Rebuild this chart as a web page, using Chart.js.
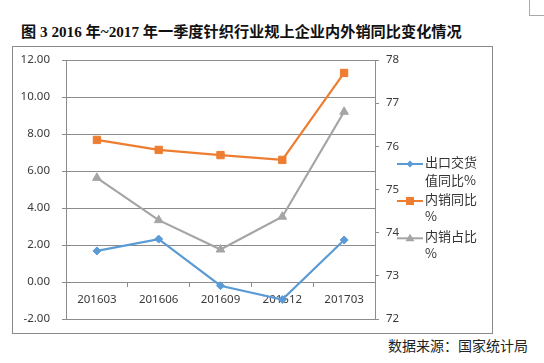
<!DOCTYPE html>
<html>
<head>
<meta charset="utf-8">
<script src="https://cdn.jsdelivr.net/npm/chart.js@4.4.1/dist/chart.umd.min.js"></script>
<style>
html,body{margin:0;padding:0;background:#fff;width:544px;height:363px;overflow:hidden;}
#title{position:absolute;left:21px;top:21px;line-height:21px;font-family:"Liberation Serif","Noto Sans CJK SC",serif;font-weight:bold;font-size:15.2px;color:#111;white-space:nowrap;}
#source{position:absolute;left:388px;top:335px;line-height:20px;font-family:"Noto Sans CJK SC",sans-serif;font-size:14px;color:#222;white-space:nowrap;}
#box{position:absolute;left:12px;top:46px;width:481px;height:288px;box-sizing:border-box;border:1px solid #8a8a8a;}
#corner{position:absolute;left:529px;top:-1px;width:20px;height:17px;box-sizing:border-box;border:1px solid #aaa;}
canvas{display:block;}
</style>
</head>
<body>
<div id="corner"></div>
<div id="title">图 3 2016 年~2017 年一季度针织行业规上企业内外销同比变化情况</div>
<div id="box"><canvas id="c" width="479" height="286"></canvas></div>
<div id="source">数据来源：国家统计局</div>
<script>
const categories = ['201603', '201606', '201609', '201612', '201703'];
const exportYoY = [1.68, 2.32, -0.20, -0.95, 2.27];
const domesticYoY = [7.68, 7.14, 6.86, 6.60, 11.30];
const domesticShare = [75.27, 74.29, 73.61, 74.37, 76.80];
const legendLines = [['出口交货', '值同比%'], ['内销同比', '%'], ['内销占比', '%']];

const gridColor = '#8c8c8c';
const tickColor = '#3a3a3a';
const tickFont = {family: '"Noto Sans", sans-serif', size: 11.5};

const legendPlugin = {
  id: 'sideLegend',
  afterDraw(chart) {
    const ctx = chart.ctx;
    const rows = [
      {line: 117, t1: 114.7, t2: 133},
      {line: 154, t1: 152.3, t2: 169.5},
      {line: 191.3, t1: 188.7, t2: 206}
    ];
    chart.data.datasets.forEach((ds, i) => {
      const r = rows[i];
      ctx.save();
      ctx.strokeStyle = ds.borderColor;
      ctx.lineWidth = 2;
      ctx.beginPath();
      ctx.moveTo(384, r.line);
      ctx.lineTo(410, r.line);
      ctx.stroke();
      ctx.fillStyle = ds.borderColor;
      const mx = 397, my = r.line;
      ctx.beginPath();
      if (ds.pointStyle === 'rectRot') {
        ctx.moveTo(mx, my - 3.5); ctx.lineTo(mx + 3.5, my); ctx.lineTo(mx, my + 3.5); ctx.lineTo(mx - 3.5, my);
      } else if (ds.pointStyle === 'rect') {
        ctx.rect(mx - 4, my - 4, 8, 8);
      } else {
        ctx.moveTo(mx, my - 4.5); ctx.lineTo(mx + 4.5, my + 3); ctx.lineTo(mx - 4.5, my + 3);
      }
      ctx.closePath();
      ctx.fill();
      ctx.fillStyle = '#333';
      ctx.font = '13px "Noto Sans CJK SC", sans-serif';
      ctx.textBaseline = 'middle';
      ctx.textAlign = 'left';
      ctx.fillText(legendLines[i][0], 412, r.t1);
      ctx.fillText(legendLines[i][1], 412, r.t2);
      ctx.restore();
    });
  }
};

function fixVertical(width) {
  return s => { s.width = width; s.paddingTop = 0; s.paddingBottom = 0; };
}

new Chart(document.getElementById('c'), {
  type: 'line',
  data: {
    labels: categories,
    datasets: [
      {label: '出口交货值同比%', data: exportYoY, yAxisID: 'y', borderColor: '#5B9BD5', backgroundColor: '#5B9BD5',
       pointStyle: 'rectRot', pointRadius: 4, pointBorderWidth: 1, borderWidth: 2.2, tension: 0},
      {label: '内销同比%', data: domesticYoY, yAxisID: 'y', borderColor: '#ED7D31', backgroundColor: '#ED7D31',
       pointStyle: 'rect', pointRadius: 5.2, pointBorderWidth: 1, borderWidth: 2.2, tension: 0},
      {label: '内销占比%', data: domesticShare, yAxisID: 'y1', borderColor: '#A5A5A5', backgroundColor: '#A5A5A5',
       pointStyle: 'triangle', pointRadius: 5, pointBorderWidth: 1, borderWidth: 2.2, tension: 0}
    ]
  },
  options: {
    animation: false,
    responsive: false,
    devicePixelRatio: 1,
    layout: {padding: {top: 13, bottom: 14, left: 0, right: 0}},
    plugins: {legend: {display: false}, tooltip: {enabled: false}, title: {display: false}},
    scales: {
      x: {
        type: 'category',
        position: {y: 0},
        offset: true,
        grid: {offset: true, drawOnChartArea: false, drawTicks: true, tickLength: 4, color: gridColor},
        border: {display: true, color: gridColor},
        ticks: {padding: 7, color: tickColor, font: tickFont, maxRotation: 0},
        afterFit: s => { s.height = 0; s.paddingLeft = 0; s.paddingRight = 0; }
      },
      y: {
        position: 'left',
        min: -2, max: 12,
        ticks: {stepSize: 2, padding: 12, color: tickColor, font: tickFont, callback: v => Number(v).toFixed(2)},
        grid: {color: gridColor, tickLength: 4, drawTicks: true},
        border: {display: true, color: gridColor},
        afterFit: fixVertical(53)
      },
      y1: {
        position: 'right',
        min: 72, max: 78,
        ticks: {stepSize: 1, padding: 7, color: tickColor, font: tickFont},
        grid: {drawOnChartArea: false, tickLength: 4, color: gridColor},
        border: {display: true, color: gridColor},
        afterFit: fixVertical(117)
      }
    }
  },
  plugins: [legendPlugin]
});
</script>
</body>
</html>
